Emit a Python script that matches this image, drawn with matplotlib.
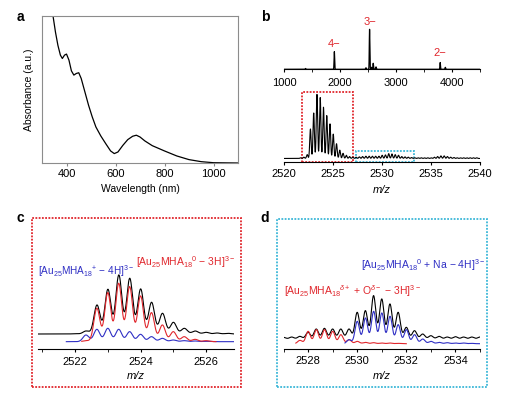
import numpy as np
import matplotlib
matplotlib.use('Agg')
import matplotlib.pyplot as plt
from matplotlib.patches import Rectangle

plt.rcParams['font.family'] = ['Liberation Sans', 'DejaVu Sans']
plt.rcParams['mathtext.fontset'] = 'custom'
plt.rcParams['mathtext.rm'] = 'Liberation Sans'
plt.rcParams['mathtext.it'] = 'Liberation Sans:italic'
plt.rcParams['mathtext.bf'] = 'Liberation Sans:bold'

# ---- data ----
# a: UV-vis absorbance
wl = [340, 345, 355, 365, 375, 383, 392, 400, 410, 420, 430, 440, 450, 460, 475, 490,
      505, 520, 540, 560, 580, 595, 610, 630, 650, 670, 685, 700, 720, 750, 800, 850,
      900, 950, 1000, 1100]
absorb = [1.10, 1.00, 0.89, 0.80, 0.734, 0.711, 0.734, 0.741, 0.70, 0.627, 0.598, 0.609,
          0.614, 0.575, 0.484, 0.393, 0.314, 0.245, 0.184, 0.132, 0.082, 0.064, 0.075,
          0.12, 0.159, 0.182, 0.189, 0.177, 0.15, 0.118, 0.082, 0.048, 0.023, 0.009,
          0.002, 0.0]

# b (top): full-range mass spectrum, peak m/z and relative height
ms_mz = [1380, 1895, 2460, 2525, 2560, 2590, 2640, 3788, 3880]
ms_h = [0.02, 0.44, 0.04, 1.0, 0.05, 0.15, 0.06, 0.17, 0.05]
charge_mz = [1895, 2525, 3788]
charge_lbl = ['4\u2212', '3\u2212', '2\u2212']
charge_y = [0.63, 1.18, 0.41]

# b (bottom): zoomed spectrum, isotope peaks every 1/3 m/z starting at 2521.67
zb_start = 2521.67
zb_h = [0.01, 0.02, 0.06, 0.46, 0.71, 1.00, 0.95, 0.80, 0.67, 0.54, 0.38, 0.23, 0.13,
        0.08, 0.05, 0.03, 0.02, 0.02, 0.025, 0.03, 0.035, 0.035, 0.035, 0.035, 0.035,
        0.05, 0.055, 0.075, 0.07, 0.06, 0.05, 0.03, 0.025, 0.02, 0.015, 0.01, 0.01,
        0.01, 0.01, 0.01, 0.01, 0.02, 0.03, 0.04, 0.04, 0.03, 0.02, 0.015, 0.01, 0.01,
        0.01, 0.01, 0.01, 0.01, 0.01]

# c: measured (black) and simulated (red, blue) isotope patterns
c_black_start = 2522.0
c_black = [1, 9, 87, 134, 177, 167, 135, 95, 62, 35, 17, 9, 5, 3, 2]
c_red_start = 2522.33
c_red = [3, 100, 147, 175, 165, 137, 87, 50, 30, 15, 7, 3]
c_blue_start = 2522.33
c_blue = [20, 37, 40, 37, 30, 22, 15, 10, 5, 3, 2, 1]

# d
d_black_start = 2527.0
d_black = [5, 6, 8, 20, 30, 32, 30, 30, 30, 80, 85, 130, 120, 105, 80, 35, 25, 15, 10,
           8, 6, 7, 6, 6, 6]
d_red_start = 2527.67
d_red = [10, 37, 42, 42, 37, 27, 12, 7, 4, 3, 2, 2, 1]
d_blue_start = 2529.67
d_blue = [12, 67, 77, 97, 92, 82, 57, 42, 27, 14, 7, 4, 3, 2, 2, 1]

RED = '#e0262c'
BLUE = '#2f2fc4'
CYAN = '#3db7d8'
W, H = 520, 395
MINUS = '\u2212'


def box(l, t, r, b):
    return [l / W, 1 - b / H, (r - l) / W, (b - t) / H]


def spectrum(x, start, heights, sigma=0.092, step=1 / 3):
    y = np.zeros_like(x)
    for k, h in enumerate(heights):
        y += h * np.exp(-(x - (start + k * step)) ** 2 / (2 * sigma ** 2))
    return y


def bottom_only(ax):
    for s in ['top', 'left', 'right']:
        ax.spines[s].set_visible(False)
    ax.set_yticks([])
    ax.tick_params(axis='x', direction='out', length=2.5, labelsize=8)


fig = plt.figure(figsize=(5.2, 3.95), dpi=100)

# ---- a ----
ax = fig.add_axes(box(42, 16, 238, 163))
ax.plot(wl, absorb, color='black', lw=0.9)
ax.set_xlim(300, 1100)
ax.set_ylim(0, 1.0)
ax.set_yticks([])
ax.set_xticks([400, 600, 800, 1000])
ax.tick_params(axis='x', direction='out', length=2.5, labelsize=8, pad=2, color='#888888')
for s in ax.spines.values():
    s.set_color('#8c8c8c')
ax.set_xlabel('Wavelength (nm)', fontsize=7.5)
ax.xaxis.set_label_coords(0.5, -0.146)
ax.set_ylabel('Absorbance (a.u.)', fontsize=7.5)
ax.yaxis.set_label_coords(-0.04, 0.5)
fig.text(20 / W, 1 - 17 / H, 'a', fontsize=10, fontweight='bold', ha='center', va='center')

# ---- b top ----
ax = fig.add_axes(box(284.3, 18, 480, 69.3))
xs = np.linspace(1000, 4500, 4000)
full = np.zeros_like(xs)
for mz, h in zip(ms_mz, ms_h):
    full += h * np.exp(-(xs - mz) ** 2 / (2 * 5.0 ** 2))
ax.plot(xs, full, color='black', lw=0.9)
ax.set_xlim(1000, 4500)
ax.set_ylim(0, 1.28)
bottom_only(ax)
ax.set_xticks([1000, 2000, 3000, 4000])
ax.set_xticks([1500, 2500, 3500, 4500], minor=True)
ax.tick_params(axis='x', which='minor', direction='out', length=2)
ax.tick_params(axis='x', pad=3.5)
for mz, t, yy in zip(charge_mz, charge_lbl, charge_y):
    ax.text(mz, yy, t, color=RED, fontsize=8, ha='center', va='center')
fig.text(265 / W, 1 - 17 / H, 'b', fontsize=10, fontweight='bold', ha='center', va='center')

# ---- b bottom ----
ax = fig.add_axes(box(284.3, 88, 480, 162.3))
xs = np.linspace(2520, 2540, 4000)
ax.plot(xs, spectrum(xs, zb_start, zb_h, 0.07), color='black', lw=0.8)
ax.set_xlim(2520, 2540)
ax.set_ylim(-0.06, 1.1)
bottom_only(ax)
ax.set_xticks([2520, 2525, 2530, 2535, 2540])
ax.tick_params(axis='x', pad=2)
ax.set_xlabel('m/z', fontsize=8, style='italic')
ax.xaxis.set_label_coords(0.5, -0.31)
ax.add_patch(Rectangle((2521.78, -0.06), 2527.0 - 2521.78, 1.10, fill=False, ec=RED,
                       lw=1.3, ls=(0, (1, 0.8)), clip_on=False))
ax.add_patch(Rectangle((2527.3, -0.06), 2533.24 - 2527.3, 0.18, fill=False, ec=CYAN,
                       lw=1.3, ls=(0, (1, 0.8)), clip_on=False))

# ---- c ----
ax = fig.add_axes(box(37.5, 270, 234, 349))
xs = np.linspace(2520.85, 2526.85, 3000)
ax.plot(xs, 23 + spectrum(xs, c_black_start, c_black), color='black', lw=0.8)
m = (xs >= 2521.73)
ax.plot(xs[m], spectrum(xs[m], c_blue_start, c_blue), color=BLUE, lw=0.8)
m = (xs >= 2522.2) & (xs <= 2526.3)
ax.plot(xs[m], spectrum(xs[m], c_red_start, c_red), color=RED, lw=0.8)
ax.set_xlim(2520.85, 2526.85)
ax.set_ylim(-22, 215)
bottom_only(ax)
ax.set_xticks([2522, 2524, 2526])
ax.set_xticks([2521, 2523, 2525], minor=True)
ax.tick_params(axis='x', which='minor', direction='out', length=2.5)
ax.tick_params(axis='x', pad=3)
ax.set_xlabel('m/z', fontsize=8, style='italic')
ax.xaxis.set_label_coords(0.5, -0.28)
fig.text(38 / W, 1 - 270.7 / H,
         r'[Au$_{25}$MHA$_{18}$$^{+}$ ' + MINUS + r' 4H]$^{3' + MINUS + '}$',
         color=BLUE, fontsize=7.2, ha='left', va='center')
fig.text(235 / W, 1 - 261.7 / H,
         r'[Au$_{25}$MHA$_{18}$$^{0}$ ' + MINUS + r' 3H]$^{3' + MINUS + '}$',
         color=RED, fontsize=7.5, ha='right', va='center')
fig.add_artist(Rectangle((32.3 / W, 1 - 387.3 / H), (241.3 - 32.3) / W, (387.3 - 218.3) / H,
                         transform=fig.transFigure, fill=False, ec=RED, lw=1.3,
                         ls=(0, (1, 0.8))))
fig.text(20 / W, 1 - 218.5 / H, 'c', fontsize=10, fontweight='bold', ha='center', va='center')

# ---- d ----
ax = fig.add_axes(box(283.5, 270, 480, 348.7))
xs = np.linspace(2527, 2535, 3000)
ax.plot(xs, 14 + spectrum(xs, d_black_start, d_black), color='black', lw=0.8)
m = (xs >= 2527.5) & (xs <= 2532.0)
ax.plot(xs[m], spectrum(xs[m], d_red_start, d_red), color=RED, lw=0.8)
m = (xs >= 2529.5)
ax.plot(xs[m], spectrum(xs[m], d_blue_start, d_blue), color=BLUE, lw=0.8)
ax.set_xlim(2527, 2535)
ax.set_ylim(-15, 221)
bottom_only(ax)
ax.set_xticks([2528, 2530, 2532, 2534])
ax.set_xticks([2527, 2529, 2531, 2533, 2535], minor=True)
ax.tick_params(axis='x', which='minor', direction='out', length=2.5)
ax.tick_params(axis='x', pad=3)
ax.set_xlabel('m/z', fontsize=8, style='italic')
ax.xaxis.set_label_coords(0.5, -0.283)
fig.text(284 / W, 1 - 290.7 / H,
         r'[Au$_{25}$MHA$_{18}$$^{\delta+}$ + O$^{\delta' + MINUS + '}$ ' + MINUS
         + r' 3H]$^{3' + MINUS + '}$',
         color=RED, fontsize=7.5, ha='left', va='center')
fig.text(485 / W, 1 - 265 / H,
         r'[Au$_{25}$MHA$_{18}$$^{0}$ + Na ' + MINUS + r' 4H]$^{3' + MINUS + '}$',
         color=BLUE, fontsize=7.5, ha='right', va='center')
fig.add_artist(Rectangle((276.7 / W, 1 - 387.3 / H), (486.7 - 276.7) / W, (387.3 - 219) / H,
                         transform=fig.transFigure, fill=False, ec=CYAN, lw=1.3,
                         ls=(0, (1, 0.8))))
fig.text(265 / W, 1 - 217.5 / H, 'd', fontsize=10, fontweight='bold', ha='center', va='center')

fig.savefig('out.png', dpi=100)
